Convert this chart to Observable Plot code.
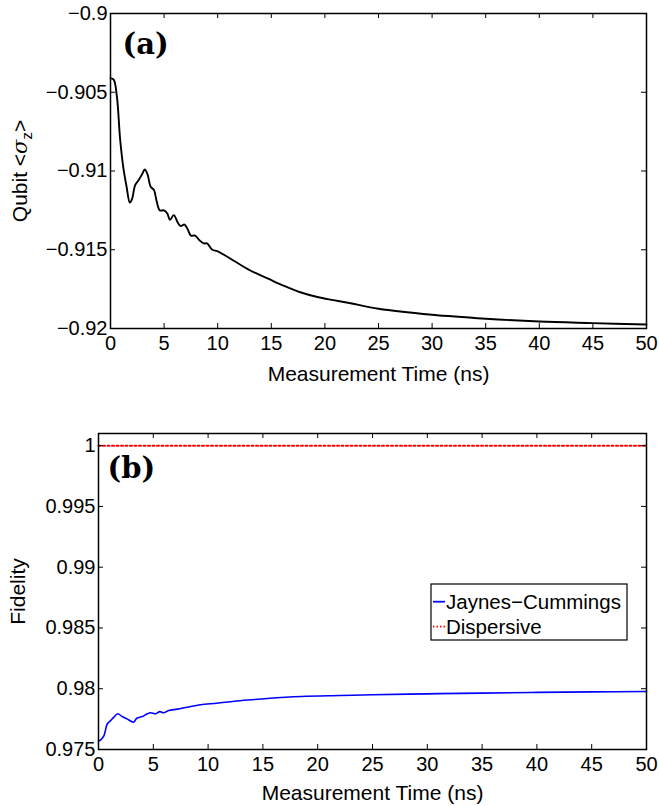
<!DOCTYPE html>
<html>
<head>
<meta charset="utf-8">
<script src="https://cdn.jsdelivr.net/npm/d3@7"></script>
<script src="https://cdn.jsdelivr.net/npm/@observablehq/plot@0.6"></script>
<style>
  html, body { margin: 0; padding: 0; background: #fff; }
  #chart { width: 659px; height: 806px; position: relative; }
  #chart svg { display: block; }
</style>
</head>
<body>
<div id="chart"></div>
<script>
// ---------- data ----------
const qubitTime = [0, 0.3, 0.6, 0.9, 1.2, 1.5, 1.8, 2.0, 2.3, 2.6, 2.95, 3.2, 3.45, 3.75, 4.05, 4.3, 4.6, 5.0, 5.3, 5.55, 5.9, 6.3, 6.55, 6.9, 7.2, 7.5, 7.9, 8.3, 8.7, 9.0, 9.5, 10, 11.5, 13, 14.6, 16.2, 17.7, 19.3, 20.8, 22.4, 25, 30, 35, 40, 45, 50];
const qubitSz = [-0.9041, -0.9042, -0.9053, -0.9080, -0.9098, -0.9110, -0.9120, -0.9118, -0.9109, -0.9106, -0.9102, -0.9099, -0.9102, -0.9110, -0.9112, -0.9119, -0.9125, -0.9125, -0.9127, -0.9131, -0.9128, -0.9133, -0.9135, -0.9134, -0.9137, -0.9141, -0.9141, -0.9144, -0.9146, -0.9146, -0.9150, -0.9151, -0.9157, -0.9163, -0.9168, -0.9173, -0.9177, -0.9180, -0.9182, -0.9184, -0.91875, -0.91913, -0.91938, -0.91956, -0.91966, -0.91975];

const jcTime = [0, 0.2, 0.5, 0.8, 1.1, 1.4, 1.75, 2.15, 2.6, 3.2, 3.5, 4.0, 4.45, 4.75, 5.2, 5.6, 5.95, 6.4, 7.2, 8.1, 9.3, 10.8, 12.4, 13.9, 15.4, 18.5, 22, 25, 30, 35, 40, 45, 50];
const jcFidelity = [0.9757, 0.9758, 0.97615, 0.9771, 0.97738, 0.97766, 0.97794, 0.97771, 0.97752, 0.97725, 0.97757, 0.97771, 0.97794, 0.97802, 0.97794, 0.97812, 0.97802, 0.97821, 0.97832, 0.97848, 0.97868, 0.97881, 0.97897, 0.97909, 0.9792, 0.97936, 0.97944, 0.9795, 0.97958, 0.97964, 0.9797, 0.97974, 0.97977];

const dispTime = [0, 50];
const dispFidelity = [1, 1];

const seriesNames = ["Jaynes\u2212Cummings", "Dispersive"];
const seriesColors = ["#0000ff", "#ff0000"];

const xTicks = [0, 5, 10, 15, 20, 25, 30, 35, 40, 45, 50];
const xTickLabels = ["0", "5", "10", "15", "20", "25", "30", "35", "40", "45", "50"];
const yTicksTop = [-0.9, -0.905, -0.91, -0.915, -0.92];
const yTickLabelsTop = ["\u22120.9", "\u22120.905", "\u22120.91", "\u22120.915", "\u22120.92"];
const yTicksBot = [0.975, 0.98, 0.985, 0.99, 0.995, 1];
const yTickLabelsBot = ["0.975", "0.98", "0.985", "0.99", "0.995", "1"];

const xLabel = "Measurement Time (ns)";
const yLabelTop = "Qubit <\u03c3z>";
const yLabelBot = "Fidelity";
const panelLabels = ["(a)", "(b)"];

// ---------- helpers ----------
const SANS = "Liberation Sans, Arial, Helvetica, sans-serif";
const TICK_FS = 20, LABEL_FS = 21;
const qubitData = qubitTime.map((t, i) => ({t, v: qubitSz[i]}));
const jcData = jcTime.map((t, i) => ({t, v: jcFidelity[i]}));
const dispData = dispTime.map((t, i) => ({t, v: dispFidelity[i]}));

function boxTicks(plotW, plotH, yTicks) {
  return [
    Plot.tickX(xTicks, {x: d => d, stroke: "black", strokeWidth: 1, insetTop: plotH - 5}),
    Plot.tickX(xTicks, {x: d => d, stroke: "black", strokeWidth: 1, insetBottom: plotH - 5}),
    Plot.tickY(yTicks, {y: d => d, stroke: "black", strokeWidth: 1, insetRight: plotW - 5}),
    Plot.tickY(yTicks, {y: d => d, stroke: "black", strokeWidth: 1, insetLeft: plotW - 5})
  ];
}

const chart = document.getElementById("chart");

// ---------- panel (a) ----------
{
  const W = 659, H = 400, mL = 110, mR = 13, mT = 13, mB = 72;
  const plotW = W - mL - mR, plotH = H - mT - mB;
  const p = Plot.plot({
    width: W, height: H,
    marginLeft: mL, marginRight: mR, marginTop: mT, marginBottom: mB,
    style: {fontFamily: SANS, background: "white", color: "black", overflow: "visible"},
    x: {domain: [0, 50]},
    y: {domain: [-0.92, -0.9]},
    marks: [
      Plot.line(qubitData, {x: "t", y: "v", stroke: "black", strokeWidth: 1.9, curve: "catmull-rom"}),
      ...boxTicks(plotW, plotH, yTicksTop),
      Plot.frame({stroke: "black", strokeWidth: 1.5}),
      Plot.axisX(xTicks, {anchor: "bottom", tickSize: 0, tickPadding: 7, fontSize: TICK_FS, label: null,
        tickFormat: d => xTickLabels[xTicks.indexOf(d)]}),
      Plot.axisY(yTicksTop, {anchor: "left", tickSize: 0, tickPadding: 3, fontSize: TICK_FS, label: null,
        tickFormat: d => yTickLabelsTop[yTicksTop.indexOf(d)]}),
      Plot.text([xLabel], {text: d => d, frameAnchor: "bottom", textAnchor: "middle", lineAnchor: "middle", dy: 45.4, fontSize: LABEL_FS, fill: "black"}),
      Plot.text([yLabelTop], {text: d => d, frameAnchor: "left", textAnchor: "middle", lineAnchor: "middle", rotate: -90, dx: -90, fontSize: LABEL_FS, fill: "black"}),
      Plot.text([panelLabels[0]], {text: d => d, frameAnchor: "top-left", textAnchor: "start", lineAnchor: "middle", dx: 12, dy: 31,
        fontFamily: "DejaVu Serif", fontWeight: "bold", fontSize: 29, fill: "black"})
    ]
  });
  // subscript / italic styling of the y label
  d3.select(p).selectAll("text").filter(function() { return this.textContent === yLabelTop; }).each(function() {
    const t = d3.select(this);
    t.text(null);
    t.append("tspan").text("Qubit <");
    t.append("tspan").attr("font-style", "italic").attr("font-family", "DejaVu Serif, serif").text("\u03c3");
    t.append("tspan").attr("font-size", "15px").attr("dy", "0.35em").text("z");
    t.append("tspan").attr("dy", "-0.25em").text(">");
  });
  chart.appendChild(p);
}

// ---------- panel (b) ----------
{
  const W = 659, H = 406, mL = 98, mR = 13, mT = 33, mB = 57;
  const plotW = W - mL - mR, plotH = H - mT - mB;
  const legend = (index, scales, values, dims) => {
    const g = d3.create("svg:g");
    const x0 = dims.width - dims.marginRight - 215;
    const y0 = dims.marginTop + 151;
    g.append("rect").attr("x", x0).attr("y", y0).attr("width", 196).attr("height", 56)
      .attr("fill", "white").attr("stroke", "black").attr("stroke-width", 1.2);
    seriesNames.forEach((name, i) => {
      const cy = y0 + 17.7 + i * 25;
      g.append("line").attr("x1", x0 + 2).attr("x2", x0 + 14).attr("y1", cy).attr("y2", cy)
        .attr("stroke", seriesColors[i]).attr("stroke-width", 1.8)
        .attr("stroke-dasharray", i === 0 ? null : "1.5,2");
      g.append("text").attr("x", x0 + 15).attr("y", cy).attr("dy", "0.35em")
        .attr("text-anchor", "start")
        .attr("font-size", 20.5).attr("font-family", SANS).attr("fill", "black").text(name);
    });
    return g.node();
  };
  const p = Plot.plot({
    width: W, height: H,
    marginLeft: mL, marginRight: mR, marginTop: mT, marginBottom: mB,
    style: {fontFamily: SANS, background: "white", color: "black", overflow: "visible"},
    x: {domain: [0, 50]},
    y: {domain: [0.975, 1.001]},
    marks: [
      Plot.line(dispData, {x: "t", y: "v", stroke: seriesColors[1], strokeWidth: 2, strokeDasharray: "2,2.5"}),
      Plot.line(jcData, {x: "t", y: "v", stroke: seriesColors[0], strokeWidth: 1.6, curve: "catmull-rom"}),
      ...boxTicks(plotW, plotH, yTicksBot),
      Plot.frame({stroke: "black", strokeWidth: 1.5}),
      Plot.axisX(xTicks, {anchor: "bottom", tickSize: 0, tickPadding: 7, fontSize: TICK_FS, label: null,
        tickFormat: d => xTickLabels[xTicks.indexOf(d)]}),
      Plot.axisY(yTicksBot, {anchor: "left", tickSize: 0, tickPadding: 3, fontSize: TICK_FS, label: null,
        tickFormat: d => yTickLabelsBot[yTicksBot.indexOf(d)]}),
      Plot.text([xLabel], {text: d => d, frameAnchor: "bottom", textAnchor: "middle", lineAnchor: "middle", dy: 43.4, fontSize: LABEL_FS, fill: "black"}),
      Plot.text([yLabelBot], {text: d => d, frameAnchor: "left", textAnchor: "middle", lineAnchor: "middle", rotate: -90, dx: -80.5, fontSize: LABEL_FS, fill: "black"}),
      Plot.text([panelLabels[1]], {text: d => d, frameAnchor: "top-left", textAnchor: "start", lineAnchor: "middle", dx: 9, dy: 35,
        fontFamily: "DejaVu Serif", fontWeight: "bold", fontSize: 29, fill: "black"}),
      legend
    ]
  });
  chart.appendChild(p);
}
</script>
</body>
</html>
